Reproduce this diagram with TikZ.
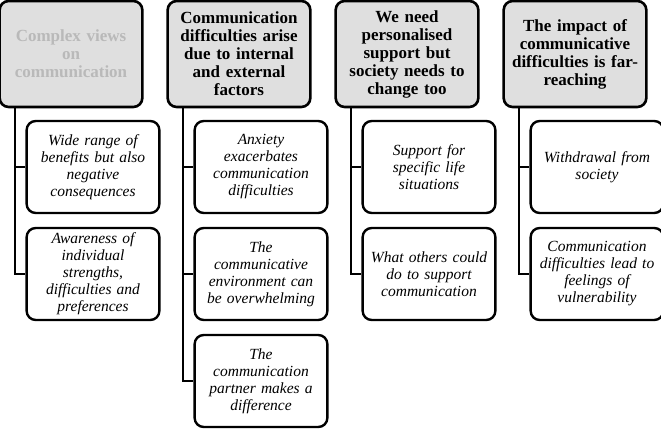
\documentclass[tikz,border=0pt]{standalone}
\usepackage{fontspec}
\setmainfont{Liberation Serif}
\begin{document}
\begin{tikzpicture}[x=1pt,y=-1pt,
 hd/.style={draw,line width=2.6pt,rounded corners=9pt,fill=gray!25,minimum width=140pt,minimum height=106pt,text width=136pt,align=center,font=\fontsize{17}{18}\selectfont\bfseries},
 ch/.style={draw,line width=2.4pt,rounded corners=9pt,fill=white,minimum width=129pt,minimum height=92pt,text width=126pt,align=center,font=\fontsize{15.5}{17}\selectfont\itshape},
 ln/.style={line width=2.4pt}]
\useasboundingbox (0,0) rectangle (661,430);
\foreach \i/\t in {0/{\textcolor{gray!55}{Complex views\\on\\communication}},1/{Communication\\difficulties arise\\due to internal\\and external\\factors},2/{We need\\personalised\\support but\\society needs to\\change too},3/{The impact of\\communicative\\difficulties is far-\\reaching}}{
 \node[hd] (h\i) at (71+168*\i,54) {\t};
}
\node[ch] (a1) at (93,167) {Wide range of\\benefits but also\\negative\\consequences};
\node[ch] (a2) at (93,274) {Awareness of\\individual\\strengths,\\difficulties and\\preferences};
\node[ch] (b1) at (261,167) {Anxiety\\exacerbates\\communication\\difficulties};
\node[ch] (b2) at (261,274) {The\\communicative\\environment can\\be overwhelming};
\node[ch] (b3) at (261,381) {The\\communication\\partner makes a\\difference};
\node[ch] (c1) at (429,167) {Support for\\specific life\\situations};
\node[ch] (c2) at (429,274) {What others could\\do to support\\communication};
\node[ch] (d1) at (597,167) {Withdrawal from\\society};
\node[ch] (d2) at (597,274) {Communication\\difficulties lead to\\feelings of\\vulnerability};
\foreach \h/\l in {h0/a2,h1/b3,h2/c2,h3/d2,h0/a1,h1/b1,h1/b2,h2/c1,h3/d1}{
 \draw[ln] ([xshift=-56pt]\h.south) |- (\l.west);
}
\end{tikzpicture}
\end{document}
